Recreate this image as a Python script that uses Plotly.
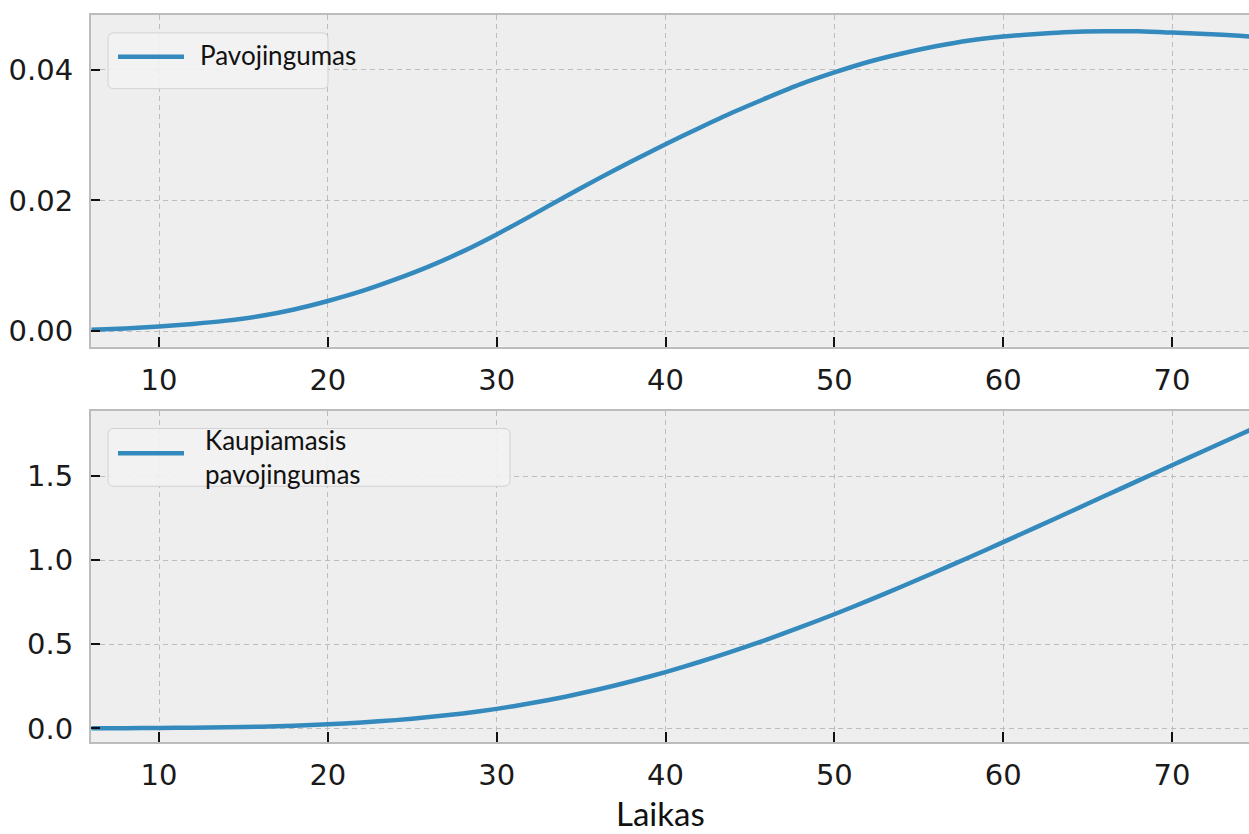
import plotly.graph_objects as go

# Data
time = [6, 8, 10, 12, 14, 16, 18, 20, 22, 24, 26, 28, 30, 32, 34, 36, 38, 40,
        42, 44, 46, 48, 50, 52, 54, 56, 58, 60, 62, 64, 66, 68, 70, 72, 74, 75]
hazard = [0.0002, 0.0004, 0.0007, 0.0011, 0.0016, 0.0023, 0.0033, 0.0046, 0.0061,
          0.0079, 0.0099, 0.0122, 0.0148, 0.0176, 0.0205, 0.0233, 0.0260, 0.0286,
          0.0311, 0.0335, 0.0357, 0.0378, 0.0396, 0.0412, 0.0425, 0.0436, 0.0445,
          0.0451, 0.0455, 0.0458, 0.0459, 0.0459, 0.0457, 0.0455, 0.0452, 0.0450]
cum_hazard = [0.000, 0.001, 0.002, 0.004, 0.006, 0.010, 0.016, 0.024, 0.035, 0.049,
              0.067, 0.089, 0.116, 0.149, 0.187, 0.231, 0.280, 0.335, 0.395, 0.459,
              0.528, 0.602, 0.679, 0.760, 0.844, 0.930, 1.018, 1.108, 1.199, 1.290,
              1.382, 1.474, 1.565, 1.656, 1.747, 1.792]
x_ticks = [10, 20, 30, 40, 50, 60, 70]
top_y_ticks = [0.00, 0.02, 0.04]
bottom_y_ticks = [0.0, 0.5, 1.0, 1.5]
top_label = "Pavojingumas"
bottom_label = "Kaupiamasis<br>pavojingumas"
x_title = "Laikas"

W, H = 1249, 834
LINE_COLOR = "#348ABD"
GRID = "#bdbdbd"
BORDER = "#bcbcbc"
TICKFONT = dict(family="DejaVu Sans", size=29, color="#1a1a1a")

def px(x):
    return x / W

def py(y):
    return 1 - y / H

fig = go.Figure()
fig.add_trace(go.Scatter(x=time, y=hazard, mode="lines",
                         line=dict(color=LINE_COLOR, width=4.5, shape="spline", smoothing=0.6),
                         xaxis="x", yaxis="y", showlegend=False))
fig.add_trace(go.Scatter(x=time, y=cum_hazard, mode="lines",
                         line=dict(color=LINE_COLOR, width=4.5, shape="spline", smoothing=0.6),
                         xaxis="x2", yaxis="y2", showlegend=False))

xcommon = dict(range=[5.972, 74.56], tickvals=x_ticks, showgrid=True, gridcolor=GRID, griddash="5px,4px",
               gridwidth=1.3, zeroline=False, showline=True, mirror=True, linecolor=BORDER, linewidth=2,
               ticks="inside", ticklen=10, tickwidth=2, tickcolor="#111111", tickfont=TICKFONT,
               ticklabelstandoff=6)
ycommon = dict(showgrid=True, gridcolor=GRID, griddash="5px,4px", gridwidth=1.3, zeroline=False,
               showline=True, mirror=False, linecolor=BORDER, linewidth=2,
               ticks="inside", ticklen=9, tickwidth=2, tickcolor="#111111", tickfont=TICKFONT,
               ticklabelstandoff=10)

fig.update_layout(
    width=W, height=H,
    margin=dict(l=0, r=0, t=0, b=0),
    paper_bgcolor="white",
    plot_bgcolor="#eeeeee",
    showlegend=False,
    xaxis=dict(domain=[px(91), 1.0], anchor="y", **xcommon),
    yaxis=dict(domain=[py(348), py(15)], anchor="x", range=[-0.0024, 0.0484], tickvals=top_y_ticks,
               tickformat=".2f", **ycommon),
    xaxis2=dict(domain=[px(91), 1.0], anchor="y2", **xcommon),
    yaxis2=dict(domain=[py(745), py(412)], anchor="x2", range=[-0.083, 1.891], tickvals=bottom_y_ticks,
                tickformat=".1f", **ycommon),
)

# Legend boxes drawn manually
shapes = []
for (x0, y0, x1, y1, ly) in [(108, 33, 328, 89, 57), (108, 430, 510, 488, 455)]:
    r = 6
    path = (f"M {px(x0+r)},{py(y0)} L {px(x1-r)},{py(y0)} Q {px(x1)},{py(y0)} {px(x1)},{py(y0+r)} "
            f"L {px(x1)},{py(y1-r)} Q {px(x1)},{py(y1)} {px(x1-r)},{py(y1)} "
            f"L {px(x0+r)},{py(y1)} Q {px(x0)},{py(y1)} {px(x0)},{py(y1-r)} "
            f"L {px(x0)},{py(y0+r)} Q {px(x0)},{py(y0)} {px(x0+r)},{py(y0)} Z")
    shapes.append(dict(type="path", path=path, xref="paper", yref="paper",
                       fillcolor="rgba(242,242,242,0.9)", line=dict(color="#d2d2d2", width=1)))
    shapes.append(dict(type="line", xref="paper", yref="paper", x0=px(118), x1=px(184), y0=py(ly), y1=py(ly),
                       line=dict(color=LINE_COLOR, width=4.5)))
fig.update_layout(shapes=shapes)

fig.add_annotation(text=top_label, xref="paper", yref="paper", x=px(198), y=py(55), xanchor="left",
                   yanchor="middle", showarrow=False, font=dict(family="Lato", size=26, color="#111111"))
fig.add_annotation(text=bottom_label, xref="paper", yref="paper", x=px(203), y=py(459), xanchor="left",
                   yanchor="middle", align="left", showarrow=False,
                   font=dict(family="Lato", size=26, color="#111111"))
fig.add_annotation(text=x_title, xref="paper", yref="paper", x=px(660), y=py(816), xanchor="center",
                   yanchor="middle", showarrow=False, font=dict(family="Lato", size=33, color="#111111"))

fig.write_html("out.html")
